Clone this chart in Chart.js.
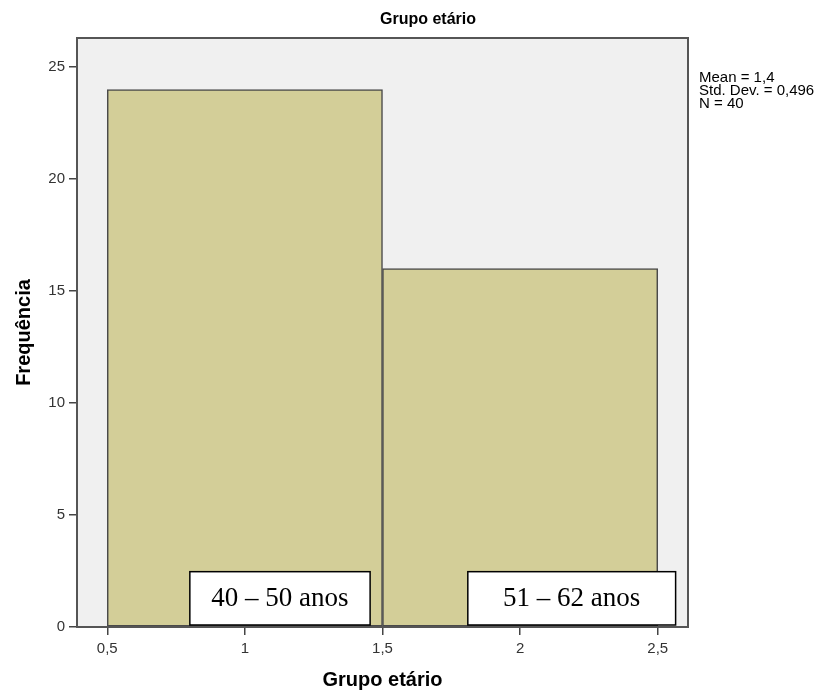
<!DOCTYPE html>
<html>
<head>
<meta charset="utf-8">
<title>Grupo etário</title>
<script src="https://cdn.jsdelivr.net/npm/chart.js@4"></script>
<style>
    body { margin: 0; background: #fff; }
    #wrap { position: relative; width: 826px; height: 696px; }
</style>
</head>
<body>
<div id="wrap"><canvas id="histChart" width="826" height="696"></canvas></div>
<script>
// Histogram data (bin centres and counts)
const binCenters = [1, 2];
const frequencies = [24, 16];

// Axis ranges
const xRange = [0.39, 2.61];
const yRange = [0, 26.3];

// Text
const chartTitle = 'Grupo etário';
const xTitle = 'Grupo etário';
const yTitle = 'Frequência';
const statsLines = ['Mean = 1,4', 'Std. Dev. = 0,496', 'N = 40'];

// Group label boxes (in data units)
const groupLabels = ['40 – 50 anos', '51 – 62 anos'];
const groupFrom = [0.8, 1.81];
const groupTo = [1.455, 2.565];
const groupBottom = 0.09;
const groupTop = 2.47;

const sansFont = '"Liberation Sans", Arial, sans-serif';
const serifFont = '"Liberation Serif", "Times New Roman", serif';

// Grey panel behind the plot, plus frame, labels, stats
const spssPlugin = {
    id: 'spss',
    beforeDatasetsDraw(chart) {
        const { ctx, chartArea: a } = chart;
        ctx.save();
        ctx.fillStyle = '#f0f0f0';
        ctx.fillRect(a.left, a.top, a.right - a.left, a.bottom - a.top);
        ctx.restore();
    },
    afterDatasetsDraw(chart) {
        const { ctx, chartArea: a, scales } = chart;
        const x = scales.x, y = scales.y;
        ctx.save();

        // frame
        ctx.strokeStyle = '#555';
        ctx.lineWidth = 2;
        ctx.strokeRect(a.left, a.top, a.right - a.left, a.bottom - a.top);

        // group label boxes
        ctx.font = '27px ' + serifFont;
        ctx.textAlign = 'center';
        ctx.textBaseline = 'middle';
        groupLabels.forEach((label, i) => {
            const x0 = x.getPixelForValue(groupFrom[i]);
            const x1 = x.getPixelForValue(groupTo[i]);
            const y0 = y.getPixelForValue(groupTop);
            const y1 = y.getPixelForValue(groupBottom);
            ctx.fillStyle = '#fff';
            ctx.fillRect(x0, y0, x1 - x0, y1 - y0);
            ctx.strokeStyle = '#000';
            ctx.lineWidth = 1.5;
            ctx.strokeRect(x0, y0, x1 - x0, y1 - y0);
            ctx.fillStyle = '#000';
            ctx.fillText(label, (x0 + x1) / 2, (y0 + y1) / 2 + 1);
        });

        // title
        ctx.font = 'bold 16px ' + sansFont;
        ctx.fillStyle = '#000';
        ctx.textBaseline = 'alphabetic';
        ctx.fillText(chartTitle, 428, 24);

        // stats text
        ctx.font = '15px ' + sansFont;
        ctx.textAlign = 'left';
        statsLines.forEach((line, i) => {
            ctx.fillText(line, a.right + 11, 82 + i * 13);
        });
        ctx.restore();
    }
};

function initializeChart() {
    const canvas = document.getElementById('histChart');
    new Chart(canvas, {
        type: 'bar',
        data: {
            datasets: [{
                label: 'Frequência',
                data: binCenters.map((c, i) => ({ x: c, y: frequencies[i] })),
                backgroundColor: '#d3ce98',
                borderColor: '#4a4a4a',
                borderWidth: 1.5,
                borderSkipped: false,
                barThickness: 'flex',
                categoryPercentage: 1,
                barPercentage: 1
            }]
        },
        options: {
            responsive: false,
            animation: false,
            layout: { padding: { top: 38, right: 138, left: 0, bottom: 0 } },
            scales: {
                x: {
                    type: 'linear',
                    min: xRange[0],
                    max: xRange[1],
                    offset: false,
                    border: { display: false },
                    grid: { offset: false, drawOnChartArea: false, drawTicks: true, tickLength: 8, color: '#444', lineWidth: 1.5 },
                    ticks: {
                        stepSize: 0.5,
                        includeBounds: false,
                        padding: 5,
                        color: '#333',
                        font: { family: sansFont, size: 15 },
                        maxRotation: 0,
                        callback: v => String(v).replace('.', ',')
                    },
                    title: {
                        display: true,
                        text: xTitle,
                        color: '#000',
                        font: { family: sansFont, size: 20, weight: 'bold' },
                        padding: { top: 0, bottom: 4 }
                    },
                    afterFit: s => { s.height = 69; }
                },
                y: {
                    min: yRange[0],
                    max: yRange[1],
                    border: { display: false },
                    grid: { drawOnChartArea: false, drawTicks: true, tickLength: 8, color: '#444', lineWidth: 1.5 },
                    ticks: {
                        stepSize: 5,
                        includeBounds: false,
                        padding: 4,
                        color: '#333',
                        font: { family: sansFont, size: 15 }
                    },
                    title: {
                        display: true,
                        text: yTitle,
                        color: '#000',
                        font: { family: sansFont, size: 20, weight: 'bold' },
                        padding: { top: 12, bottom: 0 }
                    },
                    afterFit: s => { s.width = 77; }
                }
            },
            plugins: {
                legend: { display: false },
                title: { display: false },
                tooltip: { enabled: false }
            }
        },
        plugins: [spssPlugin]
    });
}

document.addEventListener('DOMContentLoaded', initializeChart);
</script>
</body>
</html>
